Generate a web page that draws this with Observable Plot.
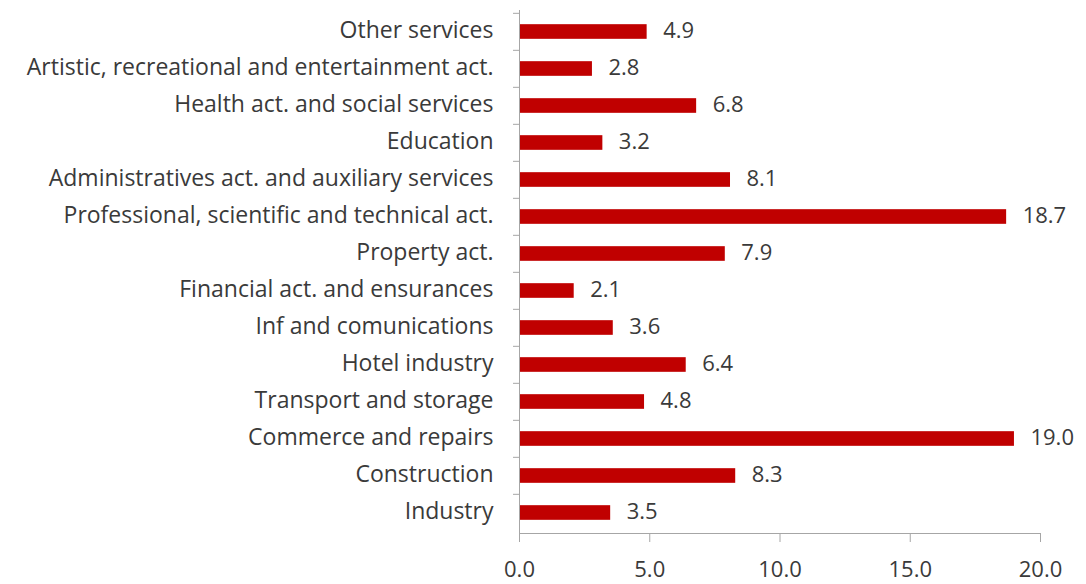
<!DOCTYPE html>
<html>
<head>
<meta charset="utf-8">
<script src="https://cdn.jsdelivr.net/npm/d3@7"></script>
<script src="https://cdn.jsdelivr.net/npm/@observablehq/plot@0.6"></script>
<style>
  html, body { margin: 0; padding: 0; background: #fff; }
  #chart svg { display: block; }
</style>
</head>
<body>
<div id="chart"></div>
<script>
// Categories listed top to bottom as drawn
const categories = [
  "Other services",
  "Artistic, recreational and entertainment act.",
  "Health act. and social services",
  "Education",
  "Administratives act. and auxiliary services",
  "Professional, scientific and technical act.",
  "Property act.",
  "Financial act. and ensurances",
  "Inf and comunications",
  "Hotel industry",
  "Transport and storage",
  "Commerce and repairs",
  "Construction",
  "Industry"
];
const values = [4.9, 2.8, 6.8, 3.2, 8.1, 18.7, 7.9, 2.1, 3.6, 6.4, 4.8, 19.0, 8.3, 3.5];
const xTicks = [0, 5, 10, 15, 20];

const data = categories.map((c, i) => ({category: c, value: values[i]}));

const W = 1086, H = 584;
const mTop = 10, mBottom = 51, mLeft = 519, mRight = 46;
const step = (H - mTop - mBottom) / categories.length;
const barH = 15;
const inset = (step - barH) / 2;
const font = "'Open Sans', Lato, sans-serif";
const axisGray = "#A6A6A6";
const textColor = "#3a3a3a";

const chart = Plot.plot({
  width: W,
  height: H,
  marginTop: mTop,
  marginBottom: mBottom,
  marginLeft: mLeft,
  marginRight: mRight,
  style: {fontFamily: font, background: "#fff"},
  x: {domain: [0, 20]},
  y: {domain: categories, padding: 0},
  marks: [
    Plot.barX(data, {x: "value", y: "category", fill: "#C00000", insetTop: inset, insetBottom: inset}),
    Plot.text(data, {x: "value", y: "category", text: d => d.value.toFixed(1), textAnchor: "start", dx: 16, dy: -1, fill: textColor, fontSize: 22}),
    Plot.axisY({tickSize: 0, tickPadding: 26, dy: -1, fill: textColor, fontSize: 23, label: null}),
    Plot.ruleY(categories, {y: d => d, dy: -step / 2, x1: 0, x2: 0, insetLeft: -6, stroke: axisGray}),
    Plot.ruleX([0], {stroke: axisGray}),
    Plot.frame({anchor: "bottom", stroke: axisGray}),
    Plot.axisX({ticks: xTicks, tickFormat: d => d.toFixed(1), tickSize: 9, tickPadding: 19, stroke: axisGray, fill: textColor, fontSize: 22, label: null})
  ]
});
document.getElementById("chart").appendChild(chart);
</script>
</body>
</html>
